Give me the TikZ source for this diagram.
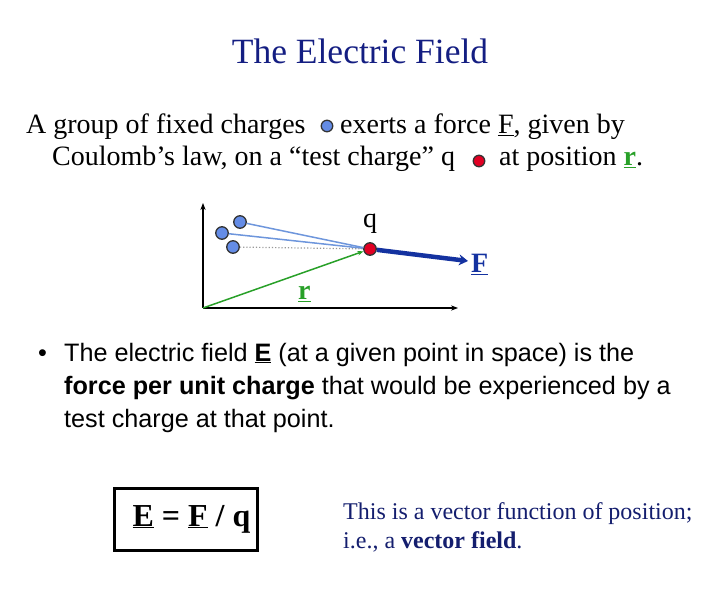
\documentclass[tikz,border=0pt]{standalone}
\usepackage{fontspec}
\setmainfont{Liberation Serif}
\setsansfont{Liberation Sans}
\usetikzlibrary{arrows.meta}
\definecolor{titleblue}{RGB}{20,30,130}
\definecolor{navy}{RGB}{20,30,110}
\definecolor{chargeblue}{RGB}{100,140,230}
\definecolor{chargered}{RGB}{225,0,35}
\definecolor{lineblue}{RGB}{110,150,220}
\definecolor{rgreen}{RGB}{40,160,40}
\definecolor{forceblue}{RGB}{20,50,160}
\tikzset{
  txt/.style={inner sep=0pt, anchor=base west},
  big/.style={font=\fontsize{28}{32}\selectfont},
  bigbf/.style={font=\fontsize{28}{32}\selectfont\bfseries},
  bul/.style={font=\sffamily\fontsize{25.2}{30}\selectfont},
  charge/.style={circle, draw=black!80, line width=1.3pt, minimum size=12.5pt, inner sep=0pt},
  fixedq/.style={charge, fill=chargeblue},
  testq/.style={charge, fill=chargered}
}

\begin{document}
\begin{tikzpicture}[x=1pt, y=-1pt]
        \useasboundingbox (0,0) rectangle (720,612);
        % titel en inleiding
        \node[txt, anchor=base, text=titleblue, font=\fontsize{35.5}{40}\selectfont] (title) at (360,64) {The Electric Field};
        \node[txt, big] (intro1) at (26,134) {A group of fixed charges};
        \node[fixedq, minimum size=11.5pt] (dotb) at (327,126) {};
        \node[txt, big] (intro2) at (340,134) {exerts a force \underline{F}, given by};
        \node[txt, big] (intro3) at (52,166) {Coulomb’s law, on a “test charge” q};
        \node[testq, minimum size=11.5pt] (dotr) at (479,161) {};
        \node[txt, big] (intro4) at (499,166) {at position \textcolor{rgreen}{\underline{\textbf{r}}}.};

        % assen
        \coordinate (O) at (203,308);
        \coordinate (ytop) at (203,203);
        \coordinate (xend) at (458,308);
        \draw[line width=1.5pt, -{Stealth[length=7pt]}] (O) -- (ytop);
        \draw[line width=1.5pt, -{Stealth[length=7pt]}] (O) -- (xend);

        % ladingen
        \node[fixedq] (c1) at (240,222) {};
        \node[fixedq] (c2) at (222,233) {};
        \node[fixedq] (c3) at (233,247) {};
        \node[testq] (q) at (370,249) {};
        \draw[lineblue, line width=1.5pt] (c1) -- (q);
        \draw[lineblue, line width=1.5pt] (c2) -- (q);
        \draw[black!40, line width=1.2pt, dotted] (c3) -- (q);
        \draw[rgreen, line width=1.5pt, -{Stealth[length=6pt]}] (O) -- (q);
        \coordinate (Ftip) at (468,261);
        \draw[forceblue, line width=4.5pt, -{Stealth[length=9pt, width=11pt]}] (q) -- (Ftip);
        \node[txt, anchor=base, big] (qlab) at (370,228) {q};
        \node[txt, text=rgreen, bigbf] (rlab) at (298,300) {\underline{r}};
        \node[txt, text=forceblue, bigbf] (Flab) at (471,273) {\underline{F}};

        % opsomming
        \node[txt, bul] (bullet) at (38,361) {•};
        \node[txt, bul] (b1) at (64,361) {The electric field \textbf{\underline{E}} (at a given point in space) is the};
        \node[txt, bul] (b2) at (64,394) {\textbf{force per unit charge} that would be experienced by a};
        \node[txt, bul] (b3) at (64,427) {test charge at that point.};

        % formule
        \node[draw, line width=3pt, minimum width=143pt, minimum height=62pt, font=\fontsize{32}{36}\selectfont\bfseries] (eq) at (185.5,519) {\hspace*{12pt}\underline{E} = \underline{F} / q};
        \node[txt, text=navy, font=\fontsize{24}{28}\selectfont] (note1) at (343,519) {This is a vector function of position;};
        \node[txt, text=navy, font=\fontsize{24}{28}\selectfont] (note2) at (343,548) {i.e., a \textbf{vector field}.};
    \end{tikzpicture}
\end{document}
